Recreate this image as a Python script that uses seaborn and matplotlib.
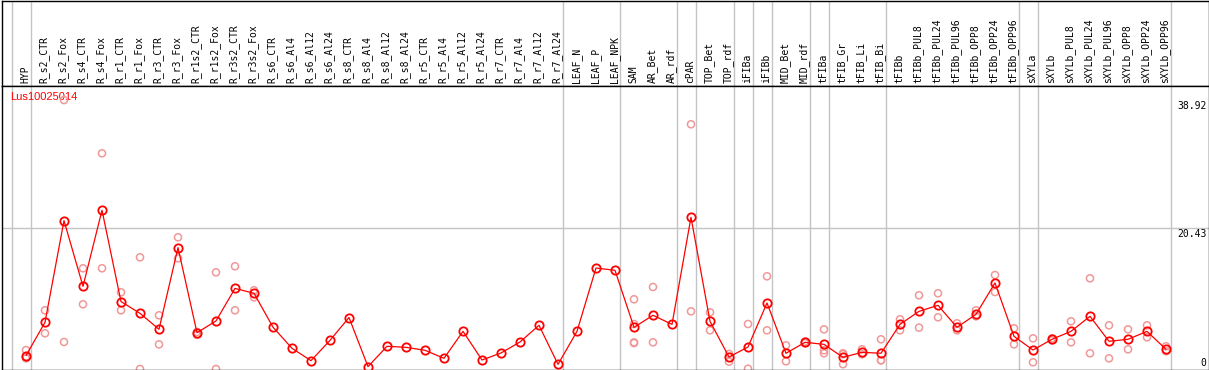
import numpy as np
import pandas as pd
import matplotlib
matplotlib.use("Agg")
import matplotlib.pyplot as plt
import seaborn as sns

# sample columns
samples = ["HYP",
           "R_s2_CTR", "R_s2_Fox", "R_s4_CTR", "R_s4_Fox", "R_r1_CTR", "R_r1_Fox",
           "R_r3_CTR", "R_r3_Fox", "R_r1s2_CTR", "R_r1s2_Fox", "R_r3s2_CTR", "R_r3s2_Fox",
           "R_s6_CTR", "R_s6_Al4", "R_s6_Al12", "R_s6_Al24",
           "R_s8_CTR", "R_s8_Al4", "R_s8_Al12", "R_s8_Al24",
           "R_r5_CTR", "R_r5_Al4", "R_r5_Al12", "R_r5_Al24",
           "R_r7_CTR", "R_r7_Al4", "R_r7_Al12", "R_r7_Al24",
           "LEAF_N", "LEAF_P", "LEAF_NPK", "SAM", "AR_Bet", "AR_rdf", "cPAR",
           "TOP_Bet", "TOP_rdf", "iFIBa", "iFIBb", "MID_Bet", "MID_rdf",
           "tFIBa", "tFIB_Gr", "tFIB_Li", "tFIB_Bi", "tFIBb",
           "tFIBb_PUL8", "tFIBb_PUL24", "tFIBb_PUL96", "tFIBb_OPP8", "tFIBb_OPP24", "tFIBb_OPP96",
           "sXYLa", "sXYLb",
           "sXYLb_PUL8", "sXYLb_PUL24", "sXYLb_PUL96", "sXYLb_OPP8", "sXYLb_OPP24", "sXYLb_OPP96"]

# mean expression per sample
means = [2.0,
         6.8, 21.5, 12.0, 23.0, 9.8, 8.1,
         5.8, 17.6, 5.3, 7.0, 11.7, 11.0,
         6.1, 3.05, 1.26, 4.2,
         7.5, 0.4, 3.34, 3.19,
         2.76, 1.6, 5.5, 1.36,
         2.37, 3.96, 6.37, 0.73,
         5.5, 14.65, 14.32, 6.08, 7.82, 6.51, 21.98,
         6.95, 1.79, 3.24, 9.6, 2.33, 3.91,
         3.62, 1.74, 2.47, 2.33, 6.51,
         8.39, 9.26, 6.08, 7.96, 12.49, 4.78,
         2.8, 4.35,
         5.5, 7.67, 4.06, 4.35, 5.5, 2.9]

# individual replicates (empty where none are visible)
replicates = [[2.8, 1.6, 1.8],
              [8.54, 5.22], [38.92, 3.96], [14.61, 9.41], [31.23, 14.61], [11.14, 8.54], [16.2, 0.06],
              [7.82, 3.62], [19.09, 16.05], [5.4, 5.0], [14.03, 0.06], [14.9, 8.54], [11.43, 10.42],
              [], [], [], [],
              [], [], [], [],
              [], [], [], [],
              [], [], [], [],
              [], [], [], [10.13, 6.56, 3.91, 3.8], [11.91, 3.91], [], [35.42, 8.39],
              [8.25, 5.65], [2.23, 1.11], [6.56, 0.1], [13.45, 5.65], [3.48, 1.17], [4.0, 3.8],
              [5.79, 2.76, 2.33], [2.33, 0.75, 2.2], [2.9, 2.18], [4.35, 1.31, 1.33], [7.24, 5.65],
              [10.71, 6.03], [11.0, 7.53], [6.66, 5.65], [8.54, 7.67], [13.64, 11.18], [5.94, 3.62],
              [4.49, 1.03], [4.49, 4.2],
              [6.95, 3.91], [13.16, 2.33], [6.37, 1.6], [5.79, 2.9], [6.37, 4.64], [3.34, 2.62]]

gene = "Lus10025014"
y_ticks = [0, 20.43, 38.92]
group_breaks = [-1, 0, 28, 31, 34, 35, 37, 38, 39, 41, 42, 45, 52, 53, 60]

mean_df = pd.DataFrame({"pos": np.arange(len(samples)), "value": means})
rep_df = pd.DataFrame([(i, v) for i, reps in enumerate(replicates) for v in reps],
                      columns=["pos", "value"])

sns.set_style("white")
W, H = 1209, 370
fig = plt.figure(figsize=(W / 100, H / 100), dpi=100)

# pixel layout
x_left, x_right = 1.5, 1208.5
head_top, head_bot, plot_bot = 0.5, 85.5, 369.5
px_per_col, x0_px = 19.0, 26.0
xlim = ((x_left - x0_px) / px_per_col, (x_right - x0_px) / px_per_col)

zero_px, scale = 369.4, 6.92
ylim = ((zero_px - plot_bot) / scale, (zero_px - head_bot) / scale)

ax_head = fig.add_axes([x_left / W, 1 - head_bot / H, (x_right - x_left) / W, (head_bot - head_top) / H])
ax = fig.add_axes([x_left / W, 1 - plot_bot / H, (x_right - x_left) / W, (plot_bot - head_bot) / H])

for a in (ax_head, ax):
    a.set_xlim(*xlim)
    a.set_xticks([])
    a.set_yticks([])
    for s in a.spines.values():
        s.set_color("black")
        s.set_linewidth(1.0)
        s.set_visible(True)
    for b in group_breaks:
        a.axvline(b + 0.25, color="#c4c4c4", lw=1.0, zorder=0)

ax_head.set_ylim(0, 1)
ax.set_ylim(*ylim)
ax.axhline(y_ticks[1], color="#c4c4c4", lw=1.0, zorder=0)

# header labels
for i, name in enumerate(samples):
    ax_head.text(i - 0.05, 0.03, name, rotation=90, ha="center", va="bottom",
                 fontsize=7, family="DejaVu Sans Mono", color="black")

# replicates then means
sns.scatterplot(data=rep_df, x="pos", y="value", ax=ax, marker="o", s=26,
                facecolors="none", edgecolor="#f09898", linewidth=1.1, zorder=2, clip_on=False)
sns.lineplot(data=mean_df, x="pos", y="value", ax=ax, color="red", lw=0.9,
             marker="o", markersize=6, mfc="none", mec="red", mew=1.3, zorder=3)
ax.set_xlabel("")
ax.set_ylabel("")
ax.set_xlim(*xlim)
ax.set_ylim(*ylim)

# value labels on the right
x_lab = 1.0 - 2 / (x_right - x_left)
for v in y_ticks:
    if v == 0:
        ax.text(x_lab, v + 0.25, "0", transform=ax.get_yaxis_transform(), ha="right", va="bottom",
                fontsize=7, family="DejaVu Sans Mono", color="black")
    else:
        ax.text(x_lab, v - 0.15, f"{v:.2f}", transform=ax.get_yaxis_transform(), ha="right", va="top",
                fontsize=7, family="DejaVu Sans Mono", color="black")

ax.text((10 - x_left) / (x_right - x_left), 1 - (97 - head_bot) / (plot_bot - head_bot), gene,
        transform=ax.transAxes, ha="left", va="center", fontsize=8,
        family="Liberation Sans", color="red", zorder=1)

fig.savefig("out.png", dpi=100)
